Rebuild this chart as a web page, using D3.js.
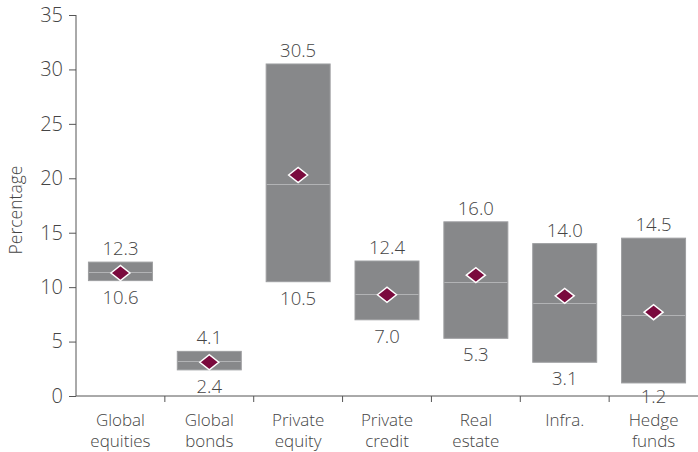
<!DOCTYPE html>
<html>
<head>
<meta charset="utf-8">
<script src="https://cdn.jsdelivr.net/npm/d3@7"></script>
<style>
  html, body { margin: 0; padding: 0; background: #fff; }
  svg { display: block; font-family: "Open Sans", "Noto Sans", sans-serif; font-weight: 300; }
</style>
</head>
<body>
<svg id="chart" width="698" height="452"></svg>
<script>
// Return ranges by asset class (percent)
const categories = [["Global", "equities"], ["Global", "bonds"], ["Private", "equity"], ["Private", "credit"], ["Real", "estate"], ["Infra."], ["Hedge", "funds"]];
const lows    = [10.6, 2.4, 10.5, 7.0, 5.3, 3.1, 1.2];
const highs   = [12.3, 4.1, 30.5, 12.4, 16.0, 14.0, 14.5];
const medians = [11.4, 3.2, 19.5, 9.4, 10.5, 8.5, 7.4];
const means   = [11.3, 3.1, 20.3, 9.3, 11.1, 9.2, 7.7];
const yTicks  = [0, 5, 10, 15, 20, 25, 30, 35];

const svg = d3.select("#chart");
const margin = { left: 76, right: 0, top: 15, bottom: 56 };
const W = 698, H = 452;

const x = d3.scaleBand()
  .domain(d3.range(categories.length))
  .range([margin.left, W - margin.right])
  .paddingInner(0.28)
  .paddingOuter(0.14);

const y = d3.scaleLinear().domain([0, 35]).range([H - margin.bottom, margin.top]);

const textColor = "#454545";
const axisColor = "#555";

// Floating range bars
const data = categories.map((c, i) => ({ c, lo: lows[i], hi: highs[i], med: medians[i], mean: means[i], i }));

const g = svg.append("g");
g.selectAll("rect.bar").data(data).join("rect")
  .attr("class", "bar")
  .attr("x", d => x(d.i))
  .attr("width", x.bandwidth())
  .attr("y", d => y(d.hi))
  .attr("height", d => y(d.lo) - y(d.hi))
  .attr("fill", "#87888a")
  .attr("stroke", "#9d9ea0")
  .attr("stroke-width", 1);

// Median lines
g.selectAll("line.med").data(data).join("line")
  .attr("x1", d => x(d.i) + 0.5)
  .attr("x2", d => x(d.i) + x.bandwidth() - 0.5)
  .attr("y1", d => Math.round(y(d.med)) + 0.5)
  .attr("y2", d => Math.round(y(d.med)) + 0.5)
  .attr("stroke", "#b2b3b5")
  .attr("stroke-width", 1);

// Mean diamonds
const dw = 9.5, dh = 7.5;
g.selectAll("path.mean").data(data).join("path")
  .attr("d", d => {
    const cx = x(d.i) + x.bandwidth() / 2, cy = y(d.mean);
    return `M${cx - dw},${cy}L${cx},${cy - dh}L${cx + dw},${cy}L${cx},${cy + dh}Z`;
  })
  .attr("fill", "#7a0a3d")
  .attr("stroke", "#fff")
  .attr("stroke-width", 1.5);

// Value labels (lower labels never drop below the axis line)
g.selectAll("text.hi").data(data).join("text")
  .attr("x", d => x(d.i) + x.bandwidth() / 2)
  .attr("y", d => y(d.hi) - 7)
  .attr("text-anchor", "middle")
  .attr("font-size", 18.5)
  .attr("fill", textColor)
  .text(d => d.hi.toFixed(1));

g.selectAll("text.lo").data(data).join("text")
  .attr("x", d => x(d.i) + x.bandwidth() / 2)
  .attr("y", d => Math.min(y(d.lo) + 23, y(0) + 7))
  .attr("text-anchor", "middle")
  .attr("font-size", 18.5)
  .attr("fill", textColor)
  .text(d => d.lo.toFixed(1));

// Y axis
const yAxis = svg.append("g")
  .attr("transform", `translate(${margin.left},0)`)
  .call(d3.axisLeft(y).tickValues(yTicks).tickSize(7).tickPadding(6).tickSizeOuter(0));
yAxis.select(".domain").attr("stroke", axisColor).attr("d", `M0,${y(35)}V${y(0)}`);
yAxis.selectAll(".tick line").attr("stroke", axisColor);
yAxis.selectAll(".tick text").attr("font-size", 20).attr("fill", textColor)
  .attr("font-family", "Open Sans, sans-serif").attr("font-weight", 300);

// X axis with separators between categories
const xAxisG = svg.append("g").attr("transform", `translate(0,${y(0)})`);
xAxisG.append("line")
  .attr("x1", margin.left).attr("x2", W)
  .attr("stroke", axisColor).attr("stroke-width", 1);
const step = x.step();
const bounds = d3.range(1, categories.length).map(i => x(i) - x.paddingInner() * step / 2);
xAxisG.selectAll("line.sep").data(bounds).join("line")
  .attr("class", "sep")
  .attr("x1", d => d).attr("x2", d => d)
  .attr("y1", 0).attr("y2", 6)
  .attr("stroke", axisColor);

// Category labels
const cat = svg.append("g").selectAll("text").data(data).join("text")
  .attr("text-anchor", "middle")
  .attr("font-size", 17)
  .attr("fill", textColor)
  .attr("x", d => x(d.i) + x.bandwidth() / 2)
  .attr("y", y(0) + 30);
cat.selectAll("tspan").data(d => d.c).join("tspan")
  .attr("x", function() { return d3.select(this.parentNode).attr("x"); })
  .attr("dy", (t, j) => j === 0 ? 0 : 21)
  .text(t => t);

// Y axis title
svg.append("text")
  .attr("transform", `translate(22,210) rotate(-90)`)
  .attr("text-anchor", "middle")
  .attr("font-size", 17.5)
  .attr("fill", textColor)
  .text("Percentage");
</script>
</body>
</html>
